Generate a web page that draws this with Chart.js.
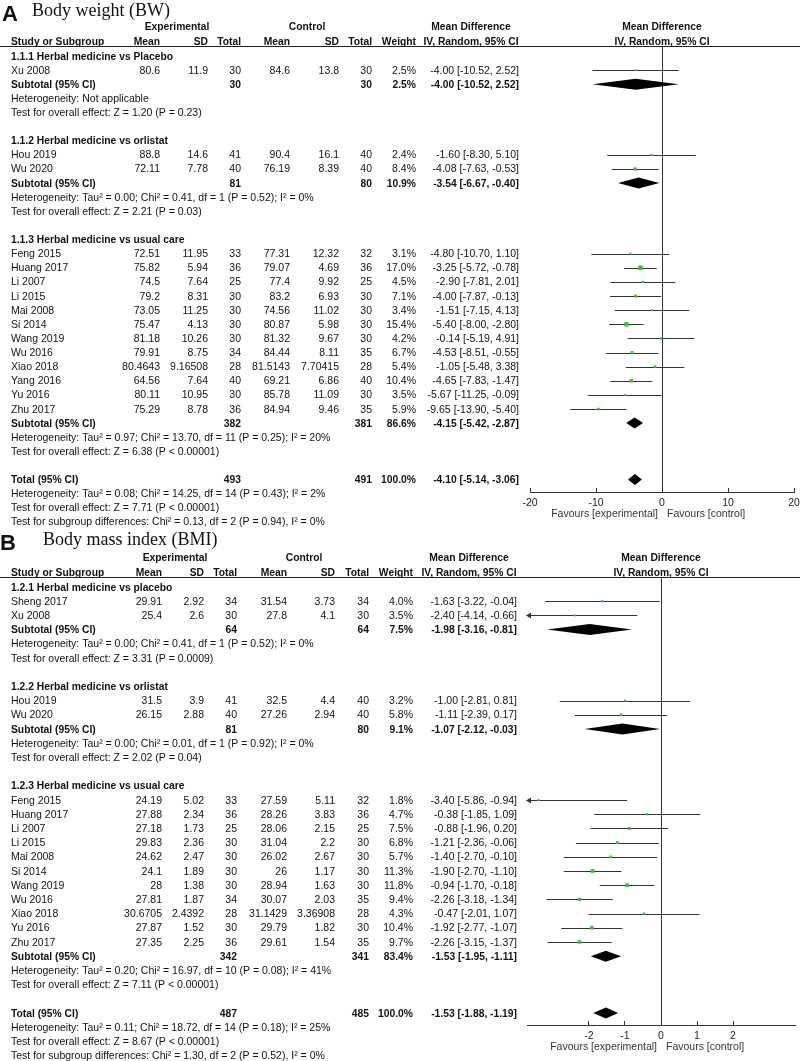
<!DOCTYPE html>
<html>
<head>
<meta charset="utf-8">
<script src="https://cdn.jsdelivr.net/npm/chart.js@4.4.1/dist/chart.umd.min.js"></script>
<style>
  body { margin: 0; background: #fff; }
  canvas { position: absolute; left: 0; }
  #chartA { top: 0; }
  #chartB { top: 530px; }
</style>
</head>
<body>
<canvas id="chartA" width="800" height="530"></canvas>
<canvas id="chartB" width="800" height="531"></canvas>
<script>
// ---- Body weight (BW) ----
const bwStudies = ['Xu 2008', 'Hou 2019', 'Wu 2020', 'Feng 2015', 'Huang 2017', 'Li 2007', 'Li 2015', 'Mai 2008', 'Si 2014', 'Wang 2019', 'Wu 2016', 'Xiao 2018', 'Yang 2016', 'Yu 2016', 'Zhu 2017'];
const bwGroupOf = [0, 1, 1, 2, 2, 2, 2, 2, 2, 2, 2, 2, 2, 2, 2];
const bwExpMean = [80.6, 88.8, 72.11, 72.51, 75.82, 74.5, 79.2, 73.05, 75.47, 81.18, 79.91, 80.4643, 64.56, 80.11, 75.29];
const bwExpSD = [11.9, 14.6, 7.78, 11.95, 5.94, 7.64, 8.31, 11.25, 4.13, 10.26, 8.75, 9.16508, 7.64, 10.95, 8.78];
const bwExpN = [30, 41, 40, 33, 36, 25, 30, 30, 30, 30, 34, 28, 40, 30, 36];
const bwCtlMean = [84.6, 90.4, 76.19, 77.31, 79.07, 77.4, 83.2, 74.56, 80.87, 81.32, 84.44, 81.5143, 69.21, 85.78, 84.94];
const bwCtlSD = [13.8, 16.1, 8.39, 12.32, 4.69, 9.92, 6.93, 11.02, 5.98, 9.67, 8.11, 7.70415, 6.86, 11.09, 9.46];
const bwCtlN = [30, 40, 40, 32, 36, 25, 30, 30, 30, 30, 35, 28, 40, 30, 35];
const bwWeight = [2.5, 2.4, 8.4, 3.1, 17.0, 4.5, 7.1, 3.4, 15.4, 4.2, 6.7, 5.4, 10.4, 3.5, 5.9];
const bwMD = [-4.00, -1.60, -4.08, -4.80, -3.25, -2.90, -4.00, -1.51, -5.40, -0.14, -4.53, -1.05, -4.65, -5.67, -9.65];
const bwLo = [-10.52, -8.30, -7.63, -10.70, -5.72, -7.81, -7.87, -7.15, -8.00, -5.19, -8.51, -5.48, -7.83, -11.25, -13.90];
const bwHi = [2.52, 5.10, -0.53, 1.10, -0.78, 2.01, -0.13, 4.13, -2.80, 4.91, -0.55, 3.38, -1.47, -0.09, -5.40];

const bwGroupTitles = ['1.1.1 Herbal medicine vs Placebo', '1.1.2 Herbal medicine vs orlistat', '1.1.3 Herbal medicine vs usual care'];
const bwGroupExpN = [30, 81, 382];
const bwGroupCtlN = [30, 80, 381];
const bwGroupWeight = [2.5, 10.9, 86.6];
const bwGroupMD = [-4.00, -3.54, -4.15];
const bwGroupLo = [-10.52, -6.67, -5.42];
const bwGroupHi = [2.52, -0.40, -2.87];
const bwGroupHet = [
  'Heterogeneity: Not applicable',
  'Heterogeneity: Tau² = 0.00; Chi² = 0.41, df = 1 (P = 0.52); I² = 0%',
  'Heterogeneity: Tau² = 0.97; Chi² = 13.70, df = 11 (P = 0.25); I² = 20%'
];
const bwGroupTest = [
  'Test for overall effect: Z = 1.20 (P = 0.23)',
  'Test for overall effect: Z = 2.21 (P = 0.03)',
  'Test for overall effect: Z = 6.38 (P < 0.00001)'
];
const bwTotalN = [493, 491];
const bwTotal = [100.0, -4.10, -5.14, -3.06]; // weight, MD, lower, upper
const bwTotalNotes = [
  'Heterogeneity: Tau² = 0.08; Chi² = 14.25, df = 14 (P = 0.43); I² = 2%',
  'Test for overall effect: Z = 7.71 (P < 0.00001)',
  'Test for subgroup differences: Chi² = 0.13, df = 2 (P = 0.94), I² = 0%'
];
const bwTicks = [-20, -10, 0, 10, 20];

// ---- Body mass index (BMI) ----
const bmiStudies = ['Sheng 2017', 'Xu 2008', 'Hou 2019', 'Wu 2020', 'Feng 2015', 'Huang 2017', 'Li 2007', 'Li 2015', 'Mai 2008', 'Si 2014', 'Wang 2019', 'Wu 2016', 'Xiao 2018', 'Yu 2016', 'Zhu 2017'];
const bmiGroupOf = [0, 0, 1, 1, 2, 2, 2, 2, 2, 2, 2, 2, 2, 2, 2];
const bmiExpMean = [29.91, 25.4, 31.5, 26.15, 24.19, 27.88, 27.18, 29.83, 24.62, 24.1, 28, 27.81, 30.6705, 27.87, 27.35];
const bmiExpSD = [2.92, 2.6, 3.9, 2.88, 5.02, 2.34, 1.73, 2.36, 2.47, 1.89, 1.38, 1.87, 2.4392, 1.52, 2.25];
const bmiExpN = [34, 30, 41, 40, 33, 36, 25, 30, 30, 30, 30, 34, 28, 30, 36];
const bmiCtlMean = [31.54, 27.8, 32.5, 27.26, 27.59, 28.26, 28.06, 31.04, 26.02, 26, 28.94, 30.07, 31.1429, 29.79, 29.61];
const bmiCtlSD = [3.73, 4.1, 4.4, 2.94, 5.11, 3.83, 2.15, 2.2, 2.67, 1.17, 1.63, 2.03, 3.36908, 1.82, 1.54];
const bmiCtlN = [34, 30, 40, 40, 32, 36, 25, 30, 30, 30, 30, 35, 28, 30, 35];
const bmiWeight = [4.0, 3.5, 3.2, 5.8, 1.8, 4.7, 7.5, 6.8, 5.7, 11.3, 11.8, 9.4, 4.3, 10.4, 9.7];
const bmiMD = [-1.63, -2.40, -1.00, -1.11, -3.40, -0.38, -0.88, -1.21, -1.40, -1.90, -0.94, -2.26, -0.47, -1.92, -2.26];
const bmiLo = [-3.22, -4.14, -2.81, -2.39, -5.86, -1.85, -1.96, -2.36, -2.70, -2.70, -1.70, -3.18, -2.01, -2.77, -3.15];
const bmiHi = [-0.04, -0.66, 0.81, 0.17, -0.94, 1.09, 0.20, -0.06, -0.10, -1.10, -0.18, -1.34, 1.07, -1.07, -1.37];

const bmiGroupTitles = ['1.2.1 Herbal medicine vs placebo', '1.2.2 Herbal medicine vs orlistat', '1.2.3 Herbal medicine vs usual care'];
const bmiGroupExpN = [64, 81, 342];
const bmiGroupCtlN = [64, 80, 341];
const bmiGroupWeight = [7.5, 9.1, 83.4];
const bmiGroupMD = [-1.98, -1.07, -1.53];
const bmiGroupLo = [-3.16, -2.12, -1.95];
const bmiGroupHi = [-0.81, -0.03, -1.11];
const bmiGroupHet = [
  'Heterogeneity: Tau² = 0.00; Chi² = 0.41, df = 1 (P = 0.52); I² = 0%',
  'Heterogeneity: Tau² = 0.00; Chi² = 0.01, df = 1 (P = 0.92); I² = 0%',
  'Heterogeneity: Tau² = 0.20; Chi² = 16.97, df = 10 (P = 0.08); I² = 41%'
];
const bmiGroupTest = [
  'Test for overall effect: Z = 3.31 (P = 0.0009)',
  'Test for overall effect: Z = 2.02 (P = 0.04)',
  'Test for overall effect: Z = 7.11 (P < 0.00001)'
];
const bmiTotalN = [487, 485];
const bmiTotal = [100.0, -1.53, -1.88, -1.19];
const bmiTotalNotes = [
  'Heterogeneity: Tau² = 0.11; Chi² = 18.72, df = 14 (P = 0.18); I² = 25%',
  'Test for overall effect: Z = 8.67 (P < 0.00001)',
  'Test for subgroup differences: Chi² = 1.30, df = 2 (P = 0.52), I² = 0%'
];
const bmiTicks = [-2, -1, 0, 1, 2];

const SANS = '"Liberation Sans", Arial, sans-serif';
const SERIF = '"Liberation Serif", "Times New Roman", serif';
const GREEN = '#33c633';
const AXIS_H = 20;

// one row per line of the table; index = y value on the chart
function buildRows(d) {
  const rows = [];
  d.groupTitles.forEach((title, g) => {
    rows.push({ kind: 'group', text: title });
    d.studies.forEach((name, i) => {
      if (d.groupOf[i] === g) rows.push({ kind: 'study', i });
    });
    rows.push({ kind: 'subtotal', g });
    rows.push({ kind: 'note', text: d.groupHet[g] });
    rows.push({ kind: 'note', text: d.groupTest[g] });
    rows.push({ kind: 'blank' });
  });
  rows.push({ kind: 'total' });
  d.totalNotes.forEach(t => rows.push({ kind: 'note', text: t }));
  return rows;
}

function ci(md, lo, hi) {
  return md.toFixed(2) + ' [' + lo.toFixed(2) + ', ' + hi.toFixed(2) + ']';
}

function makePlugin(p) {
  const d = p.data;
  function text(ctx, s, x, y, align, bold) {
    ctx.font = bold ? 'bold 10.3px ' + SANS : '10.5px ' + SANS;
    ctx.textAlign = align;
    ctx.fillText(s, x, y);
  }
  function diamond(ctx, xs, y, md, lo, hi) {
    const h = 5.5;
    ctx.beginPath();
    ctx.moveTo(xs.getPixelForValue(lo), y);
    ctx.lineTo(xs.getPixelForValue(md), y - h);
    ctx.lineTo(xs.getPixelForValue(hi), y);
    ctx.lineTo(xs.getPixelForValue(md), y + h);
    ctx.closePath();
    ctx.fillStyle = '#000';
    ctx.fill();
  }
  return {
    id: 'forest' + p.letter,
    beforeDatasetsDraw(chart) {
      const ctx = chart.ctx, xs = chart.scales.x, ys = chart.scales.y;
      ctx.save();
      ctx.strokeStyle = '#333';
      ctx.fillStyle = '#333';
      ctx.lineWidth = 1;
      p.rows.forEach((r, k) => {
        if (r.kind !== 'study') return;
        const i = r.i;
        const y = Math.round(ys.getPixelForValue(k)) + 0.5;
        const lo = Math.max(d.lo[i], xs.min), hi = Math.min(d.hi[i], xs.max);
        const x1 = xs.getPixelForValue(lo), x2 = xs.getPixelForValue(hi);
        ctx.beginPath();
        ctx.moveTo(x1, y);
        ctx.lineTo(x2, y);
        ctx.stroke();
        if (d.lo[i] < xs.min) {
          ctx.beginPath();
          ctx.moveTo(x1 - 1, y);
          ctx.lineTo(x1 + 4, y - 3);
          ctx.lineTo(x1 + 4, y + 3);
          ctx.closePath();
          ctx.fill();
        }
      });
      ctx.restore();
    },
    afterDatasetsDraw(chart) {
      const ctx = chart.ctx, xs = chart.scales.x, ys = chart.scales.y;
      ctx.save();
      p.rows.forEach((r, k) => {
        const y = ys.getPixelForValue(k);
        if (r.kind === 'subtotal') diamond(ctx, xs, y, d.groupMD[r.g], d.groupLo[r.g], d.groupHi[r.g]);
        if (r.kind === 'total') diamond(ctx, xs, y, d.total[1], d.total[2], d.total[3]);
      });
      ctx.restore();
    },
    afterDraw(chart) {
      const ctx = chart.ctx, xs = chart.scales.x, ys = chart.scales.y;
      const c = p.cols;
      const x0 = xs.getPixelForValue(0);
      ctx.save();
      ctx.fillStyle = '#111';
      ctx.textBaseline = 'alphabetic';

      // panel letter and title
      ctx.font = 'bold 22px ' + SANS;
      ctx.textAlign = 'left';
      ctx.fillText(p.letter, p.letterX, p.letterY);
      ctx.font = '18px ' + SERIF;
      ctx.fillText(p.title, p.titleX, p.titleY);

      // column headers
      const h1 = p.lineY - 16, h2 = p.lineY - 1;
      text(ctx, 'Experimental', c.expHead, h1, 'center', true);
      text(ctx, 'Control', c.ctlHead, h1, 'center', true);
      text(ctx, 'Mean Difference', c.mdHead, h1, 'center', true);
      text(ctx, 'Mean Difference', x0, h1, 'center', true);
      text(ctx, 'Study or Subgroup', 11, h2, 'left', true);
      text(ctx, 'Mean', c.expMean, h2, 'right', true);
      text(ctx, 'SD', c.expSD, h2, 'right', true);
      text(ctx, 'Total', c.expN, h2, 'right', true);
      text(ctx, 'Mean', c.ctlMean, h2, 'right', true);
      text(ctx, 'SD', c.ctlSD, h2, 'right', true);
      text(ctx, 'Total', c.ctlN, h2, 'right', true);
      text(ctx, 'Weight', c.weight, h2, 'right', true);
      text(ctx, 'IV, Random, 95% CI', c.mdHead, h2, 'center', true);
      text(ctx, 'IV, Random, 95% CI', x0, h2, 'center', true);

      ctx.strokeStyle = '#222';
      ctx.lineWidth = 1;
      ctx.beginPath();
      ctx.moveTo(0, p.lineY + 0.5);
      ctx.lineTo(800, p.lineY + 0.5);
      ctx.stroke();

      // table rows
      p.rows.forEach((r, k) => {
        const y = ys.getPixelForValue(k) + 3.5;
        if (r.kind === 'group') text(ctx, r.text, 11, y, 'left', true);
        if (r.kind === 'note') text(ctx, r.text, 11, y, 'left', false);
        if (r.kind === 'study') {
          const i = r.i;
          text(ctx, d.studies[i], 11, y, 'left', false);
          text(ctx, String(d.expMean[i]), c.expMean, y, 'right', false);
          text(ctx, String(d.expSD[i]), c.expSD, y, 'right', false);
          text(ctx, String(d.expN[i]), c.expN, y, 'right', false);
          text(ctx, String(d.ctlMean[i]), c.ctlMean, y, 'right', false);
          text(ctx, String(d.ctlSD[i]), c.ctlSD, y, 'right', false);
          text(ctx, String(d.ctlN[i]), c.ctlN, y, 'right', false);
          text(ctx, d.weight[i].toFixed(1) + '%', c.weight, y, 'right', false);
          text(ctx, ci(d.md[i], d.lo[i], d.hi[i]), c.ci, y, 'right', false);
        }
        if (r.kind === 'subtotal') {
          const g = r.g;
          text(ctx, 'Subtotal (95% CI)', 11, y, 'left', true);
          text(ctx, String(d.groupExpN[g]), c.expN, y, 'right', true);
          text(ctx, String(d.groupCtlN[g]), c.ctlN, y, 'right', true);
          text(ctx, d.groupWeight[g].toFixed(1) + '%', c.weight, y, 'right', true);
          text(ctx, ci(d.groupMD[g], d.groupLo[g], d.groupHi[g]), c.ci, y, 'right', true);
        }
        if (r.kind === 'total') {
          text(ctx, 'Total (95% CI)', 11, y, 'left', true);
          text(ctx, String(d.totalN[0]), c.expN, y, 'right', true);
          text(ctx, String(d.totalN[1]), c.ctlN, y, 'right', true);
          text(ctx, d.total[0].toFixed(1) + '%', c.weight, y, 'right', true);
          text(ctx, ci(d.total[1], d.total[2], d.total[3]), c.ci, y, 'right', true);
        }
      });

      // favours labels under the axis
      ctx.fillStyle = '#333';
      text(ctx, 'Favours [experimental]', x0 - 4, p.axisY + 25, 'right', false);
      text(ctx, 'Favours [control]', x0 + 5, p.axisY + 25, 'left', false);
      ctx.restore();
    }
  };
}

function drawPanel(p) {
  const d = p.data;
  p.rows = buildRows(d);
  const points = [];
  const radii = [];
  p.rows.forEach((r, k) => {
    if (r.kind !== 'study') return;
    points.push({ x: d.md[r.i], y: k });
    const side = Math.max(2, 1.1 * Math.sqrt(d.weight[r.i]));
    radii.push(side / Math.SQRT2);
  });
  const H = p.height;
  new Chart(document.getElementById(p.canvas), {
    type: 'scatter',
    data: {
      datasets: [{
        data: points,
        pointStyle: 'rect',
        pointRadius: radii,
        pointBackgroundColor: GREEN,
        pointBorderWidth: 0,
        showLine: false
      }]
    },
    options: {
      responsive: false,
      animation: false,
      events: [],
      layout: { padding: { left: p.plotLeft, right: 800 - p.plotRight, top: p.lineY, bottom: H - p.axisY - AXIS_H } },
      plugins: { legend: { display: false }, tooltip: { enabled: false } },
      scales: {
        x: {
          type: 'linear',
          min: p.xMin,
          max: p.xMax,
          afterBuildTicks: s => { s.ticks = p.ticks.map(v => ({ value: v })); },
          afterFit: s => { s.height = AXIS_H; s.paddingLeft = 0; s.paddingRight = 0; },
          grid: {
            color: c => (c.tick && c.tick.value === 0 ? '#333' : 'rgba(0,0,0,0)'),
            lineWidth: 1,
            drawTicks: true,
            tickLength: -4,
            tickColor: '#333'
          },
          border: { display: true, color: '#333', width: 1 },
          ticks: {
            autoSkip: false,
            maxRotation: 0,
            padding: 9,
            color: '#222',
            font: { family: SANS, size: 10.5 }
          }
        },
        y: {
          type: 'linear',
          display: false,
          reverse: true,
          min: (p.lineY - p.row0) / p.step,
          max: (p.axisY - p.row0) / p.step
        }
      }
    },
    plugins: [makePlugin(p)]
  });
}

drawPanel({
  canvas: 'chartA', height: 530, letter: 'A', letterX: 2, letterY: 21,
  title: 'Body weight (BW)', titleX: 32, titleY: 16,
  lineY: 46, row0: 56, step: 14.12, axisY: 492, plotLeft: 530, plotRight: 794,
  xMin: -20, xMax: 20, ticks: bwTicks,
  cols: { expMean: 160, expSD: 208, expN: 241, ctlMean: 290, ctlSD: 339, ctlN: 372, weight: 416, ci: 519, expHead: 177, ctlHead: 307, mdHead: 471 },
  data: {
    studies: bwStudies, groupOf: bwGroupOf, expMean: bwExpMean, expSD: bwExpSD, expN: bwExpN,
    ctlMean: bwCtlMean, ctlSD: bwCtlSD, ctlN: bwCtlN, weight: bwWeight, md: bwMD, lo: bwLo, hi: bwHi,
    groupTitles: bwGroupTitles, groupExpN: bwGroupExpN, groupCtlN: bwGroupCtlN, groupWeight: bwGroupWeight,
    groupMD: bwGroupMD, groupLo: bwGroupLo, groupHi: bwGroupHi, groupHet: bwGroupHet, groupTest: bwGroupTest,
    totalN: bwTotalN, total: bwTotal, totalNotes: bwTotalNotes
  }
});

drawPanel({
  canvas: 'chartB', height: 531, letter: 'B', letterX: 0, letterY: 20,
  title: 'Body mass index (BMI)', titleX: 43, titleY: 15,
  lineY: 47, row0: 57, step: 14.2, axisY: 495, plotLeft: 527, plotRight: 795,
  xMin: -3.72, xMax: 3.72, ticks: bmiTicks,
  cols: { expMean: 162, expSD: 204, expN: 237, ctlMean: 287, ctlSD: 335, ctlN: 369, weight: 413, ci: 517, expHead: 175, ctlHead: 304, mdHead: 469 },
  data: {
    studies: bmiStudies, groupOf: bmiGroupOf, expMean: bmiExpMean, expSD: bmiExpSD, expN: bmiExpN,
    ctlMean: bmiCtlMean, ctlSD: bmiCtlSD, ctlN: bmiCtlN, weight: bmiWeight, md: bmiMD, lo: bmiLo, hi: bmiHi,
    groupTitles: bmiGroupTitles, groupExpN: bmiGroupExpN, groupCtlN: bmiGroupCtlN, groupWeight: bmiGroupWeight,
    groupMD: bmiGroupMD, groupLo: bmiGroupLo, groupHi: bmiGroupHi, groupHet: bmiGroupHet, groupTest: bmiGroupTest,
    totalN: bmiTotalN, total: bmiTotal, totalNotes: bmiTotalNotes
  }
});
</script>
</body>
</html>
